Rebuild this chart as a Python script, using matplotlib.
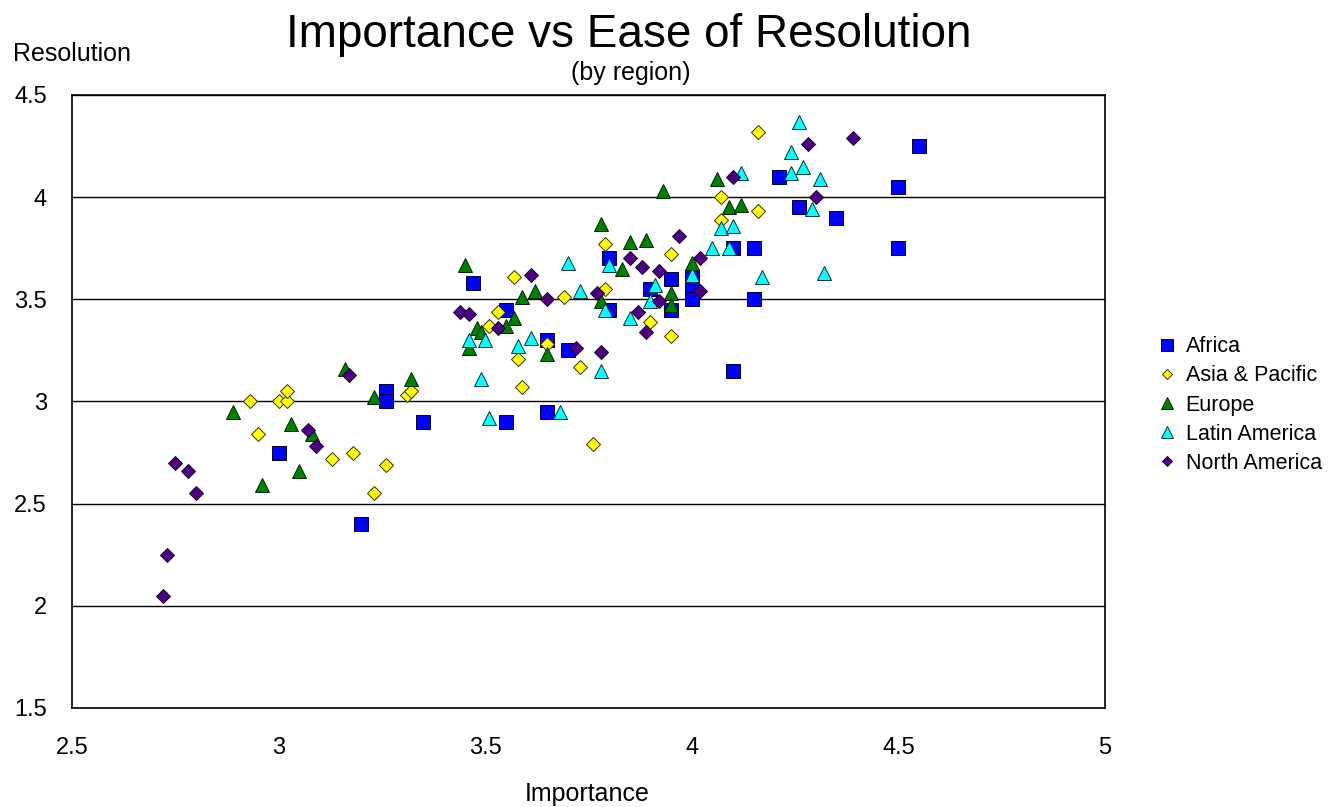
import matplotlib.pyplot as plt

plt.rcParams['font.family'] = ['Liberation Sans', 'DejaVu Sans']

# data (importance, resolution) per region
africa_x = [3.00, 3.20, 3.26, 3.26, 3.35, 3.47, 3.55, 3.55, 3.65, 3.65, 3.70, 3.80, 3.80, 3.90, 3.95,
            3.95, 4.00, 4.00, 4.00, 4.10, 4.10, 4.15, 4.15, 4.21, 4.26, 4.35, 4.50, 4.50, 4.55]
africa_y = [2.75, 2.40, 3.05, 3.00, 2.90, 3.58, 3.45, 2.90, 3.30, 2.95, 3.25, 3.70, 3.45, 3.55, 3.60,
            3.45, 3.61, 3.55, 3.50, 3.75, 3.15, 3.75, 3.50, 4.10, 3.95, 3.90, 4.05, 3.75, 4.25]

asia_x = [2.93, 2.95, 3.00, 3.02, 3.02, 3.13, 3.18, 3.23, 3.26, 3.31, 3.32, 3.51, 3.53, 3.57, 3.58,
          3.59, 3.65, 3.69, 3.73, 3.76, 3.79, 3.79, 3.90, 3.95, 3.95, 4.07, 4.07, 4.16, 4.16]
asia_y = [3.00, 2.84, 3.00, 3.00, 3.05, 2.72, 2.75, 2.55, 2.69, 3.03, 3.05, 3.37, 3.44, 3.61, 3.21,
          3.07, 3.28, 3.51, 3.17, 2.79, 3.55, 3.77, 3.39, 3.32, 3.72, 4.00, 3.89, 3.93, 4.32]

europe_x = [2.89, 2.96, 3.03, 3.05, 3.08, 3.16, 3.23, 3.32, 3.45, 3.46, 3.48, 3.49, 3.55, 3.57, 3.59,
            3.62, 3.65, 3.78, 3.78, 3.83, 3.85, 3.89, 3.93, 3.95, 3.95, 4.00, 4.06, 4.09, 4.12]
europe_y = [2.95, 2.59, 2.89, 2.66, 2.84, 3.16, 3.02, 3.11, 3.67, 3.26, 3.36, 3.34, 3.37, 3.41, 3.51,
            3.54, 3.23, 3.49, 3.87, 3.65, 3.78, 3.79, 4.03, 3.53, 3.47, 3.68, 4.09, 3.95, 3.96]

latin_x = [3.46, 3.49, 3.50, 3.51, 3.58, 3.61, 3.68, 3.70, 3.73, 3.78, 3.79, 3.80, 3.85, 3.90, 3.91,
           4.00, 4.05, 4.07, 4.09, 4.10, 4.12, 4.17, 4.24, 4.24, 4.26, 4.27, 4.29, 4.31, 4.32]
latin_y = [3.30, 3.11, 3.30, 2.92, 3.27, 3.31, 2.95, 3.68, 3.54, 3.15, 3.45, 3.67, 3.41, 3.49, 3.57,
           3.62, 3.75, 3.85, 3.75, 3.86, 4.12, 3.61, 4.22, 4.12, 4.37, 4.15, 3.94, 4.09, 3.63]

namerica_x = [2.72, 2.73, 2.75, 2.78, 2.80, 3.07, 3.09, 3.17, 3.44, 3.46, 3.53, 3.61, 3.65, 3.72, 3.77,
              3.78, 3.85, 3.87, 3.88, 3.89, 3.92, 3.92, 3.97, 4.02, 4.02, 4.10, 4.28, 4.30, 4.39]
namerica_y = [2.05, 2.25, 2.70, 2.66, 2.55, 2.86, 2.78, 3.13, 3.44, 3.43, 3.36, 3.62, 3.50, 3.26, 3.53,
              3.24, 3.70, 3.44, 3.66, 3.34, 3.64, 3.49, 3.81, 3.70, 3.54, 4.10, 4.26, 4.00, 4.29]

fig = plt.figure(figsize=(13.43, 8.07), dpi=100)
ax = fig.add_axes([0.0536, 0.1227, 0.7692, 0.7596])

ax.plot(africa_x, africa_y, ls='none', marker='s', ms=10.5, mfc='#0000FF', mec='#000033', mew=0.7, label='Africa')
ax.plot(asia_x, asia_y, ls='none', marker='D', ms=7, mfc='#FFFF00', mec='#333300', mew=0.7, label='Asia & Pacific')
ax.plot(europe_x, europe_y, ls='none', marker='^', ms=10, mfc='#008000', mec='#002200', mew=0.7, label='Europe')
ax.plot(latin_x, latin_y, ls='none', marker='^', ms=10, mfc='#00FFFF', mec='#003333', mew=0.7, label='Latin America')
ax.plot(namerica_x, namerica_y, ls='none', marker='D', ms=7, mfc='#4B0082', mec='#1a0030', mew=0.7, label='North America')

ax.set_xlim(2.5, 5)
ax.set_ylim(1.5, 4.5)
ax.set_xticks([2.5, 3, 3.5, 4, 4.5, 5])
ax.set_xticklabels(['2.5', '3', '3.5', '4', '4.5', '5'])
ax.set_yticks([1.5, 2, 2.5, 3, 3.5, 4, 4.5])
ax.set_yticklabels(['1.5', '2', '2.5', '3', '3.5', '4', '4.5'])
ax.tick_params(axis='x', length=0, pad=21, labelsize=17)
ax.tick_params(axis='y', length=0, pad=18, labelsize=17)
ax.yaxis.grid(True, color='black', linewidth=1)
ax.set_axisbelow(True)
for s in ax.spines.values():
    s.set_linewidth(1.2)

fig.text(0.468, 0.9418, 'Importance vs Ease of Resolution', ha='center', va='baseline', fontsize=33)
fig.text(0.470, 0.9009, '(by region)', ha='center', va='baseline', fontsize=18)
fig.text(0.0095, 0.9244, 'Resolution', ha='left', va='baseline', fontsize=18)
fig.text(0.4375, 0.0075, 'Importance', ha='center', va='baseline', fontsize=18)

ax.legend(loc='center left', bbox_to_anchor=(1.03, 0.494), frameon=False, fontsize=15.5,
          handletextpad=0.3, labelspacing=0.38, markerscale=0.8, handlelength=1.1)

fig.savefig('out.png', dpi=100)
